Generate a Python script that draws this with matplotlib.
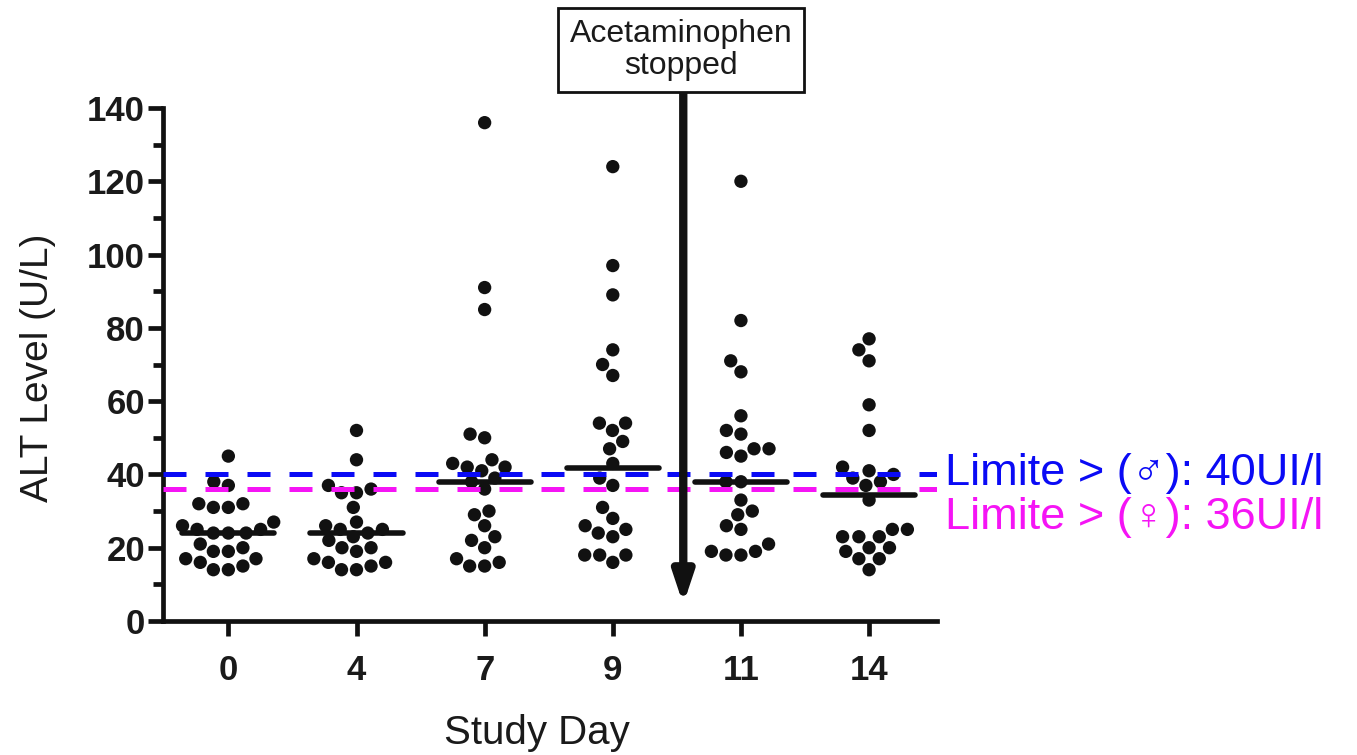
import numpy as np
import matplotlib
matplotlib.use("Agg")
import matplotlib.pyplot as plt

# ---- data ----
days = ["0", "4", "7", "9", "11", "14"]
day0 = [45, 38, 37, 32, 32, 31, 31, 27, 26, 25, 25, 24, 24, 24, 21, 20, 19, 19, 17, 17, 16, 15, 14, 14]
day4 = [52, 44, 37, 36, 35, 35, 31, 27, 26, 25, 25, 24, 23, 22, 20, 20, 19, 17, 16, 16, 15, 14, 14]
day7 = [136, 91, 85, 51, 50, 44, 43, 42, 42, 41, 39, 38, 36, 30, 29, 26, 23, 22, 20, 17, 16, 15, 15]
day9 = [124, 97, 89, 74, 70, 67, 54, 54, 52, 49, 47, 43, 39, 37, 31, 28, 26, 25, 24, 23, 18, 18, 18, 16]
day11 = [120, 82, 71, 68, 56, 52, 51, 47, 47, 46, 45, 38, 38, 33, 30, 29, 26, 25, 21, 19, 19, 18, 18]
day14 = [77, 74, 71, 59, 52, 42, 41, 40, 39, 38, 37, 33, 25, 25, 23, 23, 23, 20, 20, 19, 17, 17, 14]
groups = [day0, day4, day7, day9, day11, day14]
medians = [24, 24, 38, 41.7, 38, 34.4]
limit_male = 40
limit_female = 36
yticks = [0, 20, 40, 60, 80, 100, 120, 140]

W, H = 1357, 755
fig = plt.figure(figsize=(W / 100, H / 100), dpi=100)
ax = fig.add_axes([163 / W, 1 - 621 / H, (937 - 163) / W, (621 - 108) / H])

xmin, xmax = -0.51, 5.53
ax.set_xlim(xmin, xmax)
ax.set_ylim(0, 140)

for s in ["top", "right"]:
    ax.spines[s].set_visible(False)
for s in ["left", "bottom"]:
    ax.spines[s].set_linewidth(3.4)
    ax.spines[s].set_color("#111111")

fam = ["Liberation Sans", "DejaVu Sans"]
ax.set_yticks(yticks)
ax.set_yticks(np.arange(10, 140, 20), minor=True)
ax.set_xticks(range(len(days)))
ax.set_xticklabels(days)
ax.tick_params(axis="both", which="major", length=11, width=3.4, color="#111111",
               labelsize=25, pad=2)
ax.tick_params(axis="y", which="minor", length=7, width=3.4, color="#111111")
ax.tick_params(axis="x", pad=13)
for lab in ax.get_xticklabels() + ax.get_yticklabels():
    lab.set_fontfamily(fam)
    lab.set_fontweight("bold")
    lab.set_color("#1a1a1a")

# beeswarm layout in pixel space
ppx = ax.get_position().width * W / (xmax - xmin)
ppy = ax.get_position().height * H / 140.0
dmin = 15.0
for i, vals in enumerate(groups):
    ys = np.array(sorted(vals))
    placed = []
    xs = []
    for v in ys:
        yp = v * ppy
        forb = []
        for (ox, oy) in placed:
            dy = abs(yp - oy)
            if dy < dmin:
                h = np.sqrt(dmin ** 2 - dy ** 2)
                forb.append((ox - h, ox + h))
        cands = [0.0] + [a for a, b in forb] + [b for a, b in forb]
        cands = sorted(cands, key=lambda c: (abs(c), c))
        chosen = 0.0
        for c in cands:
            if all(not (a + 1e-6 < c < b - 1e-6) for a, b in forb):
                chosen = c
                break
        placed.append((chosen, yp))
        xs.append(i + chosen / ppx)
    ax.scatter(xs, ys, s=92, color="#111111", edgecolors="none", zorder=3, clip_on=False)
    ax.plot([i - 0.36, i + 0.36], [medians[i], medians[i]], color="#111111",
            lw=4.0, solid_capstyle="round", zorder=4)

# limit lines
ax.axhline(limit_male, color="#0a0af5", lw=3.6, dashes=(4.6, 3.8), zorder=5)
ax.axhline(limit_female, color="#f514f5", lw=3.6, dashes=(4.6, 3.8), zorder=5)

fig.text(945 / W, 1 - 473 / H, "Limite > (♂): 40UI/l", color="#0a0af5",
         fontsize=32.5, family=fam, va="center", ha="left")
fig.text(945 / W, 1 - 517 / H, "Limite > (♀): 36UI/l", color="#f514f5",
         fontsize=32.5, family=fam, va="center", ha="left")

# axis labels
fig.text(38 / W, 1 - 368 / H, "ALT Level (U/L)", rotation=90, fontsize=28,
         family=fam, va="center", ha="center", color="#1a1a1a")
fig.text(537 / W, 1 - 733 / H, "Study Day", fontsize=29, family=fam,
         va="center", ha="center", color="#1a1a1a")

# annotation arrow and box
arrow_x = 3.55
ax.annotate("", xy=(arrow_x, 4.5), xytext=(arrow_x, 145),
            arrowprops=dict(arrowstyle="-|>,head_width=0.6,head_length=1.8",
                            lw=6, color="#111111", shrinkA=0, shrinkB=0),
            annotation_clip=False, zorder=6)
fig.text(681 / W, 1 - 50 / H, "Acetaminophen\nstopped", fontsize=23, family=fam,
         ha="center", va="center", color="#1a1a1a", linespacing=1.1,
         bbox=dict(boxstyle="square,pad=0.35", fc="white", ec="#111111", lw=2))

fig.savefig("out.png", dpi=100)
